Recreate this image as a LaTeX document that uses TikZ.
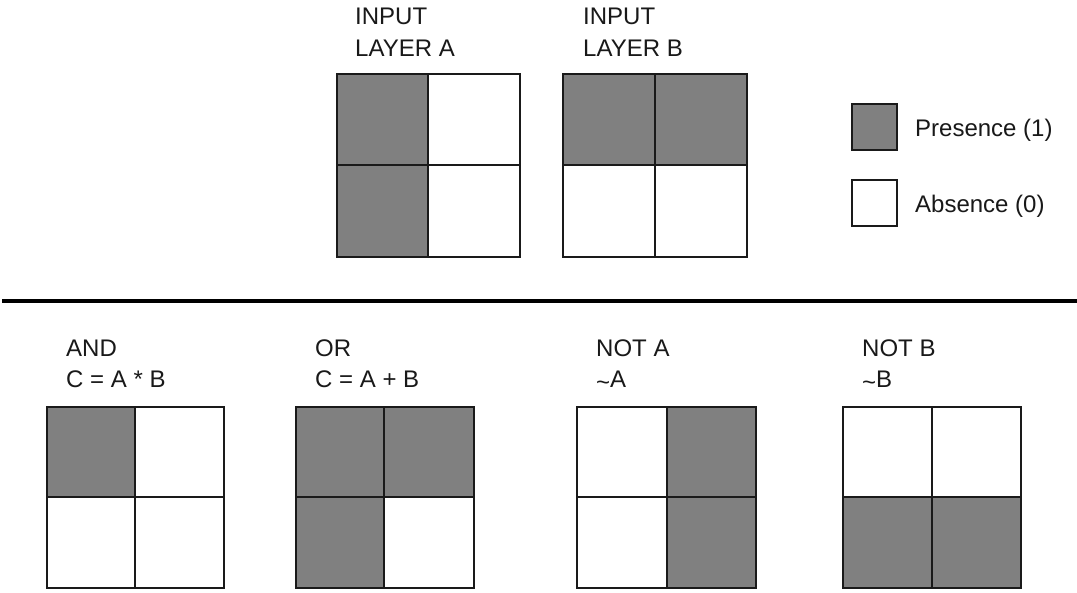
\documentclass[tikz,border=0pt]{standalone}
\usepackage{fontspec}
\setmainfont{Liberation Sans}
\definecolor{cellgray}{HTML}{808080}
\definecolor{gline}{HTML}{1A1A1A}
\newcommand{\tld}{\raisebox{-3pt}{\char"007E}}
\begin{document}
\begin{tikzpicture}[x=1pt,y=-1pt,
  lbl/.style={anchor=base west,inner sep=0pt,font=\fontsize{24}{28}\selectfont,text=black!90},
  gridline/.style={draw=gline,line width=1.4pt,line cap=rect},
  on/.style={fill=cellgray}]
\useasboundingbox[fill=white] (0,0) rectangle (1077,593);

% ---------- input layer A ----------
\fill[on] (337,74) rectangle (428,257);
\draw[gridline] (337,74) rectangle (520,257) (428,74) -- (428,257) (337,165) -- (520,165);
\node[lbl] (tA1) at (355,25) {INPUT};
\node[lbl] (tA2) at (355,57) {LAYER A};

% ---------- input layer B ----------
\fill[on] (563,74) rectangle (747,165);
\draw[gridline] (563,74) rectangle (747,257) (655,74) -- (655,257) (563,165) -- (747,165);
\node[lbl] (tB1) at (583,25) {INPUT};
\node[lbl] (tB2) at (583,57) {LAYER B};

% ---------- legend ----------
\draw[gridline,on] (852,104) rectangle (897,150);
\draw[gridline,fill=white] (852,180) rectangle (897,226);
\node[lbl] (lp) at (915,137) {Presence (1)};
\node[lbl] (la) at (915,213) {Absence (0)};

% ---------- divider ----------
\draw[line width=3.2pt,black] (2,301) -- (1077,301);

% ---------- AND ----------
\fill[on] (47,407) rectangle (135,497);
\draw[gridline] (47,407) rectangle (224,588) (135,407) -- (135,588) (47,497) -- (224,497);
\node[lbl] (t11) at (66,357) {AND};
\node[lbl] (t12) at (66,388) {C = A * B};

% ---------- OR ----------
\fill[on] (296,407) rectangle (474,497);
\fill[on] (296,497) rectangle (384,588);
\draw[gridline] (296,407) rectangle (474,588) (384,407) -- (384,588) (296,497) -- (474,497);
\node[lbl] (t21) at (315,357) {OR};
\node[lbl] (t22) at (315,388) {C = A + B};

% ---------- NOT A ----------
\fill[on] (667,407) rectangle (756,588);
\draw[gridline] (577,407) rectangle (756,588) (667,407) -- (667,588) (577,497) -- (756,497);
\node[lbl] (t31) at (596,357) {NOT A};
\node[lbl] (t32) at (596,388) {\tld A};

% ---------- NOT B ----------
\fill[on] (843,497) rectangle (1021,588);
\draw[gridline] (843,407) rectangle (1021,588) (932,407) -- (932,588) (843,497) -- (1021,497);
\node[lbl] (t41) at (862,357) {NOT B};
\node[lbl] (t42) at (862,388) {\tld B};
\end{tikzpicture}
\end{document}
